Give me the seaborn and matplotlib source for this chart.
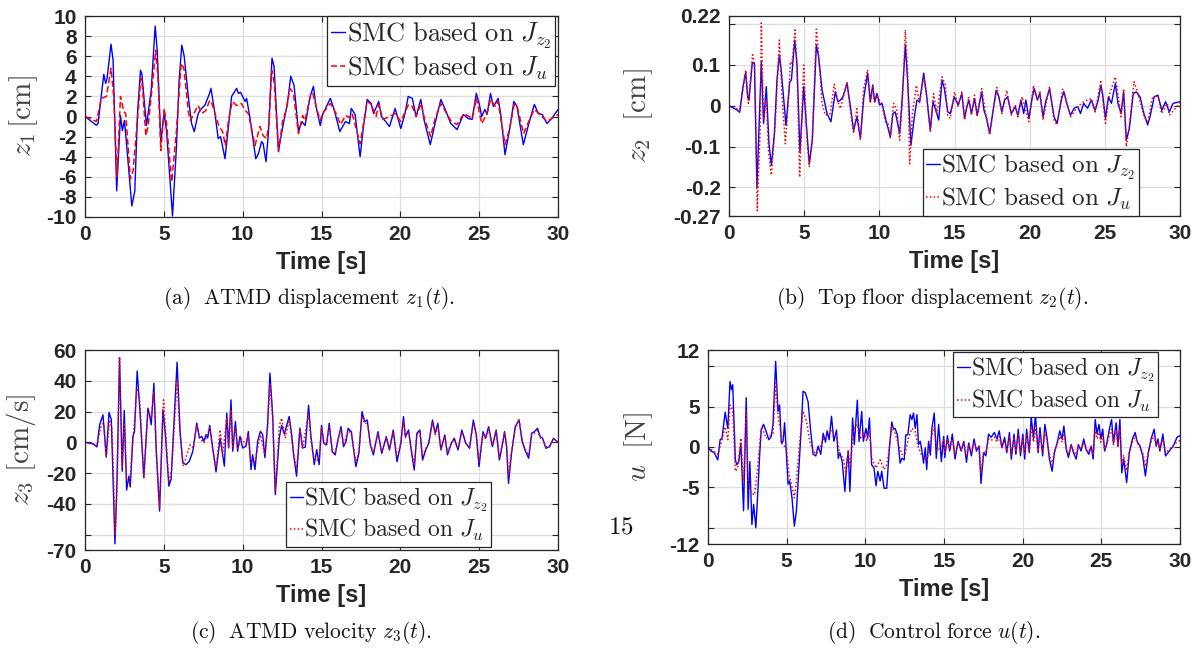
import matplotlib
matplotlib.use('Agg')
import matplotlib.pyplot as plt
import pandas as pd
import seaborn as sns

# (time [s], value) pairs, one list per curve

# (a) ATMD displacement z1 [cm]
z1_jz2 = [(0, 0), (0.72, -0.87), (0.83, -0.7), (1.19, 4.2), (1.31, 3.3), (1.4, 3.8), (1.65, 7.2), (1.78, 5.6),
          (2.01, -7.4), (2.25, 0.1), (2.37, -1.4), (2.5, -0.4), (2.65, -3.0), (2.97, -8.9), (3.16, -7.4), (3.33, 0.3),
          (3.52, 4.6), (3.6, 4.3), (3.9, -0.9), (4.2, 2.6), (4.45, 9.0), (4.58, 6.6), (4.81, -2.5), (5.02, 0.3),
          (5.17, -1.4), (5.55, -9.9), (5.8, -3.0), (5.97, 3.6), (6.14, 7.1), (6.29, 6.0), (6.55, 2.0), (6.76, -0.7),
          (6.93, -1.5), (7.18, 0.3), (7.39, 0.8), (7.6, 1.1), (7.9, 2.3), (7.99, 2.8), (8.24, 0.3), (8.45, -2.2),
          (8.6, -2.0), (8.88, -4.2), (9.05, -1.7), (9.3, 2.0), (9.62, 2.8), (9.73, 2.3), (9.87, 2.4), (10.15, 1.5),
          (10.25, 1.8), (10.47, -0.2), (10.83, -4.2), (11.0, -3.7), (11.2, -2.5), (11.3, -2.7), (11.48, -4.5),
          (11.63, -1.7), (11.86, 5.8), (11.99, 5.0), (12.27, -3.4), (12.58, -0.7), (12.84, 1.3), (13.05, 4.0),
          (13.26, 3.1), (13.54, -1.5), (13.75, -0.5), (13.96, -0.9), (14.28, 2.0), (14.49, 3.0), (14.64, 1.1),
          (14.92, -0.9), (15.07, 0.2), (15.56, 1.8), (15.8, 0.7), (16.16, -1.5), (16.52, -0.5), (16.77, -0.7),
          (16.89, 0.8), (17.13, 0.2), (17.45, -4.0), (17.66, -1.0), (17.9, 1.7), (18.15, 1.3), (18.3, 0.3),
          (18.63, 1.5), (18.8, 0.0), (19.07, -0.5), (19.31, -1.0), (19.67, 0.8), (20.03, -1.2), (20.28, 0.2),
          (20.5, 2.0), (20.76, 1.8), (21.0, 0.0), (21.3, 1.7), (21.5, -0.3), (21.9, -2.8), (22.2, -0.7),
          (22.57, 1.7), (22.9, 0.5), (23.2, -0.7), (23.6, -1.3), (24.0, 0.2), (24.3, -0.2), (24.55, -0.3),
          (24.82, 2.3), (25.0, 1.3), (25.16, 0.0), (25.36, 0.7), (25.5, 0.2), (25.72, 2.3), (25.9, 1.0),
          (26.03, 1.3), (26.2, 1.8), (26.37, 0.2), (26.64, -3.8), (26.93, -1.3), (27.2, 1.5), (27.4, 1.0),
          (27.8, -2.8), (28.15, -0.7), (28.5, 1.2), (28.75, 0.3), (29.0, 0.2), (29.3, -0.7), (29.6, -0.2), (30, 0.7)]
z1_ju = [(0, 0), (0.72, -0.5), (1.04, 1.8), (1.36, 2.0), (1.65, 4.8), (1.82, 2.0), (2.03, -6.0), (2.25, 2.0),
         (2.46, 0.5), (2.58, 0.3), (2.88, -6.2), (3.05, -5.4), (3.35, 0.1), (3.54, 3.8), (3.64, 3.0), (3.86, -1.9),
         (4.0, -1.0), (4.2, 2.0), (4.49, 6.6), (4.64, 3.6), (4.81, -3.4), (5.02, 0.8), (5.17, -0.7), (5.5, -6.5),
         (5.8, -1.4), (6.1, 5.3), (6.27, 4.8), (6.57, 0.3), (6.69, -0.4), (6.97, 0.5), (7.18, 1.1), (7.39, 0.3),
         (7.67, 0.6), (7.88, 1.5), (7.99, 1.6), (8.24, 0.3), (8.5, -1.0), (8.73, -1.5), (8.9, -2.9), (9.09, -0.5),
         (9.34, 1.5), (9.62, 1.1), (9.93, 1.3), (10.15, 0.6), (10.36, 0.3), (10.78, -2.9), (11.1, -1.0),
         (11.3, -1.9), (11.52, -2.2), (11.67, -0.7), (11.84, 4.6), (12.01, 3.3), (12.27, -3.5), (12.54, -0.4),
         (12.75, 0.6), (13.0, 2.8), (13.22, 2.3), (13.54, -1.7), (13.81, 0.1), (13.96, -0.4), (14.28, 2.0),
         (14.45, 2.3), (14.66, 1.0), (14.92, -0.4), (15.07, 0.3), (15.56, 1.3), (15.92, 0.3), (16.21, -0.8),
         (16.53, 0.1), (16.77, -0.1), (16.94, 0.3), (17.45, -2.7), (17.9, 1.5), (18.15, 1.2), (18.46, 0.0),
         (18.63, 1.2), (18.9, -0.3), (19.31, 0.0), (19.67, 0.3), (20.03, -0.5), (20.52, 1.2), (20.76, 1.0),
         (21.0, 0.0), (21.32, 1.3), (21.53, -0.2), (21.92, -2.0), (22.21, -0.2), (22.57, 1.3), (22.94, 0.3),
         (23.23, -0.5), (23.59, -0.8), (24.03, 0.3), (24.56, -0.2), (24.82, 1.8), (25.16, -0.7), (25.5, 0.3),
         (25.72, 1.7), (26.03, 1.0), (26.2, 1.5), (26.64, -2.8), (26.93, -1.2), (27.22, 1.2), (27.41, 1.0),
         (27.82, -1.7), (28.14, -0.5), (28.5, 0.7), (28.99, 0.0), (29.3, -0.5), (30, 0.2)]

# (b) top floor displacement z2 [cm]
z2_jz2 = [(0, 0), (0.53, -0.01), (0.71, -0.016), (0.93, 0.047), (1.11, 0.082), (1.24, 0.022), (1.33, 0.014),
          (1.55, 0.106), (1.69, 0.104), (1.86, -0.2), (2.15, 0.108), (2.3, -0.043), (2.48, 0.047), (2.66, -0.093),
          (2.82, -0.146), (3.02, -0.068), (3.19, 0.063), (3.35, 0.125), (3.48, 0.084), (3.79, -0.048),
          (4.04, 0.059), (4.15, 0.063), (4.37, 0.161), (4.52, 0.104), (4.72, -0.113), (4.97, 0.047),
          (5.14, -0.043), (5.34, -0.142), (5.54, -0.084), (5.81, 0.149), (5.96, 0.12), (6.19, 0.039),
          (6.52, -0.019), (6.78, -0.039), (7.07, 0.034), (7.25, 0.01), (7.41, 0.014), (7.58, 0.022),
          (7.85, 0.055), (8.03, 0.01), (8.29, -0.06), (8.51, -0.027), (8.74, -0.08), (8.96, 0.018), (9.22, 0.08),
          (9.4, 0.01), (9.56, 0.051), (9.69, 0.01), (9.84, 0.03), (10.02, 0.002), (10.18, 0.006), (10.44, -0.035),
          (10.73, -0.076), (10.9, -0.019), (11.06, -0.015), (11.35, -0.068), (11.5, 0.006), (11.73, 0.149),
          (11.88, 0.063), (12.1, -0.097), (12.33, -0.027), (12.5, 0.014), (12.68, 0.01), (12.95, 0.08),
          (13.13, 0.03), (13.39, -0.06), (13.57, 0.01), (13.72, -0.007), (13.95, -0.035), (14.17, 0.063),
          (14.32, 0.043), (14.55, -0.015), (14.72, -0.019), (14.99, 0.022), (15.24, 0.002), (15.49, 0.03),
          (15.67, -0.031), (15.82, -0.002), (15.95, 0.014), (16.13, -0.019), (16.33, 0.018), (16.51, -0.023),
          (16.81, 0.034), (16.96, -0.011), (17.14, -0.031), (17.34, -0.068), (17.57, -0.011), (17.77, 0.038),
          (17.95, 0.022), (18.15, -0.015), (18.33, 0.014), (18.53, 0.022), (18.78, -0.019), (19.04, -0.002),
          (19.22, -0.023), (19.42, 0.014), (19.6, -0.019), (19.75, 0.014), (19.95, -0.031), (20.18, 0.022),
          (20.3, 0.042), (20.51, 0.014), (20.68, 0.03), (20.89, -0.027), (21.06, 0.01), (21.32, 0.042),
          (21.44, 0.014), (21.62, -0.027), (21.82, -0.043), (22.13, 0.018), (22.28, 0.034), (22.46, 0.006),
          (22.71, -0.023), (22.96, -0.006), (23.2, -0.002), (23.38, -0.019), (23.59, 0.006), (23.85, -0.006),
          (24.1, 0.014), (24.35, -0.011), (24.56, 0.014), (24.73, 0.05), (24.85, 0.03), (25.04, -0.031),
          (25.24, 0.022), (25.44, 0.006), (25.7, 0.055), (25.87, 0.006), (26.08, -0.019), (26.25, 0.034),
          (26.43, -0.084), (26.63, -0.055), (26.89, 0.03), (27.09, 0.034), (27.34, 0.022), (27.6, -0.019),
          (27.85, -0.047), (28.03, -0.023), (28.28, 0.022), (28.53, 0.026), (28.79, -0.011), (29.04, 0.01),
          (29.29, -0.015), (29.54, 0.006), (30, 0.01)]
z2_ju = [(0, 0), (0.71, -0.01), (0.98, 0.05), (1.11, 0.088), (1.29, 0.006), (1.57, 0.125), (1.71, 0.096),
         (1.88, -0.257), (2.08, -0.05), (2.15, 0.203), (2.3, -0.035), (2.48, 0.014), (2.64, -0.117), (2.82, -0.17),
         (3.08, -0.043), (3.35, 0.161), (3.53, 0.022), (3.75, -0.093), (3.97, 0.022), (4.08, 0.108), (4.2, 0.104),
         (4.39, 0.186), (4.52, 0.095), (4.7, -0.175), (4.97, 0.1), (5.19, -0.084), (5.34, -0.15), (5.54, -0.084),
         (5.81, 0.188), (5.96, 0.128), (6.19, 0.006), (6.41, -0.023), (6.74, -0.019), (7.0, 0.053), (7.25, 0.01),
         (7.41, -0.007), (7.58, 0.018), (7.85, 0.059), (8.07, -0.011), (8.29, -0.068), (8.51, -0.007),
         (8.74, -0.084), (8.96, 0.043), (9.22, 0.088), (9.4, 0.006), (9.56, 0.047), (9.69, 0.006), (9.84, 0.026),
         (10.18, 0.002), (10.4, -0.039), (10.58, -0.043), (10.73, -0.08), (10.95, 0.006), (11.17, -0.011),
         (11.35, -0.084), (11.55, 0.022), (11.73, 0.186), (11.88, 0.088), (12.02, -0.142), (12.2, -0.019),
         (12.46, 0.05), (12.68, 0.006), (12.95, 0.071), (13.13, 0.03), (13.39, -0.064), (13.61, 0.03),
         (13.83, -0.019), (14.17, 0.071), (14.39, 0.051), (14.55, -0.023), (14.72, -0.031), (15.0, 0.034),
         (15.24, -0.002), (15.49, 0.034), (15.67, -0.035), (15.95, 0.022), (16.13, -0.023), (16.33, 0.026),
         (16.51, -0.027), (16.81, 0.042), (17.14, -0.035), (17.34, -0.072), (17.57, -0.011), (17.82, 0.045),
         (18.15, -0.019), (18.48, 0.038), (18.78, -0.023), (19.04, 0.002), (19.22, -0.027), (19.49, 0.022),
         (19.95, -0.039), (20.25, 0.05), (20.51, 0.014), (20.68, 0.034), (20.89, -0.035), (21.32, 0.047),
         (21.62, -0.035), (21.82, -0.047), (22.2, 0.042), (22.46, 0.01), (22.71, -0.027), (23.22, -0.001),
         (23.59, 0.01), (24.1, 0.018), (24.35, -0.015), (24.73, 0.059), (25.04, -0.043), (25.29, 0.026),
         (25.7, 0.071), (26.08, -0.027), (26.25, 0.042), (26.43, -0.1), (26.63, -0.051), (26.94, 0.059),
         (27.14, 0.038), (27.59, -0.023), (27.85, -0.043), (28.15, 0.018), (28.53, 0.026), (28.78, -0.019),
         (29.16, 0.006), (29.29, -0.023), (30, 0.006)]

# (c) ATMD velocity z3 [cm/s]
z3_jz2 = [(0, 0), (0.51, -0.9), (0.76, -3), (0.93, 11.4), (1.14, 17.9), (1.35, -9.7), (1.52, 19.4), (1.67, 14.7),
          (1.9, -66), (2.03, -25), (2.19, 55), (2.36, -18.8), (2.49, 20.7), (2.64, -31), (2.78, -22), (2.87, -29),
          (3.04, 3.9), (3.14, 7), (3.31, 46.4), (3.5, 18), (3.73, -23), (3.99, 22.2), (4.09, 18), (4.2, 11.4),
          (4.37, 38.4), (4.51, -3.7), (4.73, -44.7), (4.94, 21.2), (5.1, 5), (5.32, -28.5), (5.46, -24),
          (5.84, 52), (6.03, 7.1), (6.2, -13.4), (6.41, -14.5), (6.62, -12.3), (6.84, -5.8), (7.09, 12.5),
          (7.26, 2.8), (7.4, 3.9), (7.53, 0.6), (7.68, 5), (7.78, 2.8), (7.91, 11), (8.1, -3.7), (8.31, -19.2),
          (8.57, 2.8), (8.73, -8), (8.84, -15.5), (8.99, 19), (9.11, -3.7), (9.26, 27.6), (9.37, -5.8),
          (9.54, 13.6), (9.68, -5.8), (9.83, 3.9), (10.0, -3.7), (10.21, -2.6), (10.36, 7), (10.53, -17.7),
          (10.63, -8), (10.78, -17.7), (10.95, 0.6), (11.12, 7.1), (11.27, 5), (11.41, -10), (11.58, 11.4),
          (11.73, 45), (11.9, 18), (12.07, -34), (12.32, 2.8), (12.47, 11), (12.64, 5.4), (12.95, 16.8),
          (13.12, 3.9), (13.23, -8), (13.42, -22), (13.63, 9.3), (13.8, -3.7), (13.97, -3.2), (14.18, 24),
          (14.32, 5), (14.54, -14.5), (14.7, -4.8), (14.85, -14.5), (15.0, 11), (15.15, -0.7), (15.32, -1.7),
          (15.49, 12.4), (15.68, -6.1), (15.87, -8.2), (16.04, 1.5), (16.24, 10.2), (16.4, -2.8), (16.55, 0.4),
          (16.69, 9.1), (16.89, 6.9), (17.18, -15.8), (17.37, -7.2), (17.57, 19.9), (17.74, 13.4), (17.9, 14.5),
          (18.1, -1.7), (18.29, -8.2), (18.58, 6.9), (18.82, -7.2), (19.11, 3.7), (19.31, -5), (19.55, 8),
          (19.79, -12.6), (20.03, -0.7), (20.2, 16.7), (20.32, 3.7), (20.52, 8), (20.69, -5), (20.88, -18),
          (21.05, 5.9), (21.24, 8), (21.41, -11.5), (21.61, -5), (21.8, -0.7), (22.04, 14.5), (22.21, 5.9),
          (22.38, 12.4), (22.57, -5), (22.82, 4.8), (22.99, -8.2), (23.23, -0.7), (23.42, 2.6), (23.66, -5),
          (23.9, 8), (24.15, -0.7), (24.39, -3.9), (24.63, 14.5), (24.82, 4.8), (24.99, -15.8), (25.24, 6.9),
          (25.41, 2.6), (25.6, 10.2), (25.84, -2.8), (26.08, 8), (26.28, -11.5), (26.45, -2.8), (26.61, 6.9),
          (26.74, -2.8), (26.86, -26.7), (27.05, -7.2), (27.29, 10.2), (27.53, 14.5), (27.73, 0.4), (27.95, -6.1),
          (28.14, -10.4), (28.33, 5.9), (28.5, 6.9), (28.7, 9.1), (28.87, 3.7), (29.03, 2.6), (29.23, -3.9),
          (29.47, -2.8), (29.71, 2.6), (30, 0)]
z3_ju = [(0, 0), (0.76, -2), (1.04, 11.4), (1.19, 12.5), (1.35, -9), (1.56, 14.7), (1.71, 9.3), (1.92, -60),
         (2.05, -23), (2.19, 55.7), (2.36, -15.5), (2.49, 12.5), (2.64, -24), (2.83, -27), (3.04, 1.7), (3.31, 35),
         (3.46, 28.7), (3.73, -23), (3.99, 20), (4.2, 15.8), (4.37, 33), (4.51, -3.7), (4.73, -42.5), (4.98, 27.6),
         (5.15, 0.6), (5.32, -26), (5.49, -18.8), (5.84, 40.6), (6.03, 5), (6.24, -15.5), (6.46, -8), (6.67, -1.5),
         (6.88, -3.7), (7.09, 11.4), (7.26, 2.8), (7.53, -0.4), (7.68, 2.8), (7.91, 9.3), (8.1, -4.8),
         (8.31, -16.6), (8.57, 8.2), (8.73, -8), (8.99, 15.8), (9.11, -3.7), (9.26, 21), (9.37, -3.7), (9.54, 9.3),
         (9.68, -4.8), (9.89, 2.8), (10.21, -1.5), (10.36, 5), (10.53, -13.4), (10.78, -12.3), (11.12, 5),
         (11.41, -8), (11.58, 9.3), (11.73, 37.8), (11.9, 15.8), (12.07, -31.7), (12.32, 10.4), (12.47, 15.8),
         (12.7, 2.8), (12.95, 14.7), (13.23, -6.9), (13.42, -17.7), (13.63, 8.2), (13.8, -3.7), (14.18, 19),
         (14.32, 2.8), (14.54, -12.3), (14.85, -11.2), (15.0, 9.3), (15.15, -0.4), (15.32, -1), (15.49, 10),
         (15.68, -4.5), (15.87, -6.5), (16.04, 1), (16.24, 8.5), (16.4, -2), (16.69, 7.5), (16.89, 6),
         (17.18, -13), (17.37, -6), (17.57, 17), (17.74, 12), (17.9, 12.5), (18.1, -1), (18.29, -6.5), (18.58, 6),
         (18.82, -6), (19.11, 3), (19.31, -4), (19.55, 7), (19.79, -10), (20.03, -0.5), (20.2, 14), (20.32, 3),
         (20.52, 7), (20.69, -4), (20.88, -15), (21.05, 5), (21.24, 7), (21.41, -9.5), (21.61, -4), (21.8, -0.5),
         (22.04, 12.5), (22.21, 5), (22.38, 10.5), (22.57, -4), (22.82, 4), (22.99, -6.5), (23.23, -0.5),
         (23.42, 2), (23.66, -4), (23.9, 6.5), (24.15, -0.5), (24.39, -3), (24.63, 12.5), (24.82, 4), (24.99, -13),
         (25.24, 6), (25.41, 2), (25.6, 8.5), (25.84, -2), (26.08, 7), (26.28, -9.5), (26.45, -2), (26.61, 6),
         (26.74, -2), (26.86, -22), (27.05, -6), (27.29, 9), (27.53, 15), (27.73, 1), (27.95, -5), (28.14, -8.5),
         (28.33, 5), (28.5, 6), (28.7, 7.5), (28.87, 3), (29.03, 2), (29.23, -3), (29.47, -2.5), (29.71, 2), (30, 0)]

# (d) control force u [N]
u_jz2 = [(0, 0), (0.19, -0.5), (0.4, -0.7), (0.62, -1.6), (0.77, 0.9), (0.89, 1.1), (1.09, 4.3), (1.26, 2.3),
         (1.4, 8.1), (1.49, 7.1), (1.57, 7.7), (1.74, -1.6), (1.83, -2.2), (1.96, -1.8), (2.09, 0.5), (2.26, -7.9),
         (2.43, 6.1), (2.55, -7.7), (2.66, -1.8), (2.79, -9.6), (2.9, -7.1), (3.04, -10), (3.17, -5.5),
         (3.28, -1.1), (3.38, 2.1), (3.53, 2.8), (3.7, 1.9), (3.87, 0.9), (4.02, 1.3), (4.13, 2.8), (4.3, 10.6),
         (4.45, 4.4), (4.55, 5.2), (4.66, 0.5), (4.77, 0.7), (4.87, 3), (4.98, -0.9), (5.09, -4.6), (5.19, -4.2),
         (5.34, -6.3), (5.49, -9.8), (5.62, -7.9), (5.79, -2.2), (5.94, 2.8), (6.04, 6.9), (6.19, 6.7),
         (6.36, 5.6), (6.51, 2.3), (6.68, -0.9), (6.85, -1.1), (7.0, 0.1), (7.17, -0.9), (7.32, 1.7), (7.47, 0.6),
         (7.57, 2), (7.7, 0.9), (7.85, 3.8), (8.0, 0.7), (8.17, 2.1), (8.28, -1.4), (8.38, -0.7), (8.53, -1.8),
         (8.7, -5.5), (8.81, -2.2), (8.91, -0.5), (9.02, -5.5), (9.19, 3.6), (9.3, 0.3), (9.49, 5.8), (9.6, 0.7),
         (9.77, 4.4), (9.87, 0.7), (10.04, 2.3), (10.15, 1.1), (10.26, 3.6), (10.4, -2.2), (10.55, -2.6),
         (10.68, -4.8), (10.79, -3), (10.94, -4.2), (11.04, -3), (11.19, -5.1), (11.36, -5.1), (11.53, -0.1),
         (11.68, 3.1), (11.79, 2.2), (11.89, 2.3), (12.04, 1.5), (12.21, -2), (12.32, -1.4), (12.47, -1.6),
         (12.57, 1.5), (12.7, 1.5), (12.85, 4), (12.96, 3.4), (13.06, 4.2), (13.17, 2.3), (13.28, 4), (13.38, 0.3),
         (13.49, 0.7), (13.6, -0.5), (13.7, -2), (13.81, -0.1), (13.9, -2.8), (14.02, 0.7), (14.13, -1),
         (14.23, 2.3), (14.38, 4.2), (14.51, -1.4), (14.66, 2.8), (14.83, -1.8), (14.98, 1.3), (15.05, -1.3),
         (15.22, 1.4), (15.36, -0.5), (15.53, 1.6), (15.7, -1.5), (15.9, 0.7), (16.09, -0.5), (16.26, 0.7),
         (16.43, -1.9), (16.57, 0.5), (16.74, -1.1), (16.91, 1.0), (17.06, -0.5), (17.23, 0.1), (17.35, -4.5),
         (17.52, -0.7), (17.66, -1.1), (17.83, 1.6), (18.0, 1.2), (18.2, 1.8), (18.36, 1.0), (18.51, 2.0),
         (18.68, -0.1), (18.85, 1.2), (18.99, -0.7), (19.16, 1.8), (19.28, -1.5), (19.45, 1.6), (19.57, -0.9),
         (19.72, 2.2), (19.86, -1.1), (20.01, 1.6), (20.13, -1.5), (20.25, 2.2), (20.42, -0.7), (20.54, 3.8),
         (20.69, 1.0), (20.81, 4.1), (20.98, -0.7), (21.1, 2.4), (21.27, -1.1), (21.41, 2.8), (21.53, 1.4),
         (21.7, -1.5), (21.87, -3.0), (22.02, -0.7), (22.19, 0.5), (22.36, 2.0), (22.5, 1.0), (22.62, 2.6),
         (22.77, -0.3), (22.91, -1.3), (23.08, 0.3), (23.23, -0.7), (23.4, -1.5), (23.54, 0.3), (23.71, -0.5),
         (23.88, 1.0), (24.03, -0.3), (24.2, -0.9), (24.36, 0.1), (24.48, -1.5), (24.61, 3.4), (24.73, 1.6),
         (24.85, 2.8), (24.97, 1.0), (25.09, 2.2), (25.21, -0.5), (25.33, 0.3), (25.53, 2.4), (25.65, 3.4),
         (25.77, 0.5), (25.94, 3.0), (26.06, 0.1), (26.18, 3.4), (26.3, -3.2), (26.42, -1.5), (26.61, -4.4),
         (26.78, -0.7), (26.98, 1.0), (27.15, 1.8), (27.27, 0.7), (27.46, 0.1), (27.63, -1.1), (27.8, -3.6),
         (27.99, -0.7), (28.16, 1.0), (28.36, 2.2), (28.48, 0.1), (28.6, 1.0), (28.72, -0.5), (28.91, 1.6),
         (29.08, -1.1), (29.32, -0.5), (29.57, 0.1), (29.81, 1.2), (30, 1.4)]
u_ju = [(0, 0), (0.62, -0.9), (0.89, 0.9), (1.09, 2.5), (1.26, 0.9), (1.4, 5.2), (1.57, 4.6), (1.74, -3.0),
        (1.89, -2.6), (2.09, 1.1), (2.26, -4.2), (2.43, 4.4), (2.55, -4.2), (2.74, -5.7), (2.96, -5.9),
        (3.17, -2.2), (3.38, 2.3), (3.53, 1.9), (3.7, 1.1), (3.87, 1.3), (4.13, 1.7), (4.3, 7.9), (4.45, 3.8),
        (4.6, 2.3), (4.72, 0.3), (4.98, -0.1), (5.15, -3.4), (5.3, -4.6), (5.49, -6.3), (5.62, -4.2), (5.83, 0.7),
        (6.04, 4.4), (6.26, 3.2), (6.47, 0.7), (6.68, -0.5), (6.89, -0.9), (7.11, -0.1), (7.32, 0.9), (7.57, 1.3),
        (7.85, 2.1), (8.17, 1.3), (8.38, -0.9), (8.6, -1.4), (8.77, -3.4), (8.91, -0.5), (9.06, -2.6), (9.23, 2.1),
        (9.49, 2.8), (9.66, 0.9), (9.87, 1.9), (10.09, 0.7), (10.26, 2.1), (10.4, -1.4), (10.68, -2.6),
        (10.94, -1.6), (11.19, -2.8), (11.36, -2.2), (11.53, -0.1), (11.68, 2.5), (11.89, 1.7), (12.11, 0.3),
        (12.32, -0.9), (12.53, -0.9), (12.74, 1.1), (12.96, 2.3), (13.17, 1.9), (13.38, -0.1), (13.6, -1.1),
        (13.91, -1.8), (14.23, 1.5), (14.38, 2.5), (14.55, -0.5), (14.77, -0.1), (14.98, 0.9), (15.05, -0.8),
        (15.22, 0.9), (15.36, -0.3), (15.53, 1.0), (15.7, -1.0), (15.9, 0.5), (16.09, -0.3), (16.26, 0.5),
        (16.43, -1.2), (16.57, 0.3), (16.74, -0.7), (16.91, 0.6), (17.06, -0.3), (17.23, 0.1), (17.35, -3.2),
        (17.52, -0.5), (17.66, -0.7), (17.83, 1.0), (18.0, 0.8), (18.2, 1.2), (18.36, 0.6), (18.51, 1.3),
        (18.68, 0.0), (18.85, 0.8), (18.99, -0.5), (19.16, 1.2), (19.28, -1.0), (19.45, 1.0), (19.57, -0.6),
        (19.72, 1.5), (19.86, -0.7), (20.01, 1.0), (20.13, -1.0), (20.25, 1.5), (20.42, -0.5), (20.54, 2.5),
        (20.69, 0.6), (20.81, 2.6), (20.98, -0.5), (21.1, 1.6), (21.27, -0.7), (21.41, 1.8), (21.53, 0.9),
        (21.7, -1.0), (21.87, -2.2), (22.02, -0.5), (22.19, 0.3), (22.36, 1.3), (22.5, 0.6), (22.62, 1.7),
        (22.77, -0.2), (22.91, -0.9), (23.08, 0.2), (23.23, -0.5), (23.4, -1.0), (23.54, 0.2), (23.71, -0.3),
        (23.88, 0.6), (24.03, -0.2), (24.2, -0.6), (24.36, 0.1), (24.48, -1.0), (24.61, 2.2), (24.73, 1.0),
        (24.85, 1.8), (24.97, 0.6), (25.09, 1.4), (25.21, -0.3), (25.33, 0.2), (25.53, 1.6), (25.65, 2.2),
        (25.77, 0.3), (25.94, 2.0), (26.06, 0.1), (26.18, 2.2), (26.3, -2.2), (26.42, -1.0), (26.61, -2.9),
        (26.78, -0.5), (26.98, 0.6), (27.15, 1.4), (27.27, 0.5), (27.46, 0.1), (27.63, -0.7), (27.8, -2.4),
        (27.99, -0.5), (28.16, 0.6), (28.36, 1.4), (28.48, 0.1), (28.6, 0.6), (28.72, -0.3), (28.91, 1.0),
        (29.08, -0.7), (29.32, -0.3), (29.57, 0.2), (29.81, 0.6), (30, 0.8)]

# axis ticks (blank label = gridline only)
x_ticks = [0, 5, 10, 15, 20, 25, 30]
z1_ticks = [-10, -8, -6, -4, -2, 0, 2, 4, 6, 8, 10]
z1_labels = ['-10', '-8', '-6', '-4', '-2', '0', '2', '4', '6', '8', '10']
z2_ticks = [-0.27, -0.2, -0.1, 0, 0.1, 0.2, 0.22]
z2_labels = ['-0.27', '-0.2', '-0.1', '0', '0.1', '', '0.22']
z3_ticks = [-70, -60, -40, -20, 0, 20, 40, 60]
z3_labels = ['-70', '', '-40', '-20', '0', '20', '40', '60']
u_ticks = [-12, -10, -5, 0, 5, 10, 12]
u_labels = ['-12', '', '-5', '0', '5', '', '12']

label_jz2 = r'$\mathrm{SMC\ based\ on}\ J_{z_2}$'
label_ju = r'$\mathrm{SMC\ based\ on}\ J_u$'

sns.set_theme(style='white')
plt.rcParams['font.family'] = ['Liberation Sans', 'DejaVu Sans']
plt.rcParams['mathtext.fontset'] = 'cm'

W, H = 1196, 648
fig = plt.figure(figsize=(W / 100, H / 100), dpi=100)


def add_ax(left, top, right, bottom):
    return fig.add_axes([left / W, 1 - bottom / H, (right - left) / W, (bottom - top) / H])


def to_df(pairs):
    t, v = zip(*pairs)
    return pd.DataFrame({'t': t, 'v': v})


def panel(ax, blue, red, red_dash, ylim, yticks, ylabels, ylabel, ylab_x, loc, anchor, leg_fs):
    sns.lineplot(data=to_df(blue), x='t', y='v', ax=ax, color='#0000ff', lw=1.0,
                 sort=False, estimator=None, label=label_jz2)
    sns.lineplot(data=to_df(red), x='t', y='v', ax=ax, color='#ff0000', lw=1.1,
                 sort=False, estimator=None, label=label_ju, linestyle=red_dash)
    ax.set_xlim(0, 30)
    ax.set_ylim(*ylim)
    ax.set_xticks(x_ticks)
    ax.set_xticklabels([str(x) for x in x_ticks], fontweight='bold', fontsize=15, color='#262626')
    ax.set_yticks(yticks)
    ax.set_yticklabels(ylabels, fontweight='bold', fontsize=15, color='#262626')
    ax.grid(True, color='#dedede', lw=0.9)
    for s in ax.spines.values():
        s.set_color('#262626')
        s.set_linewidth(0.9)
    ax.tick_params(direction='in', length=4, width=0.8, color='#262626', top=True, right=True,
                   bottom=True, left=True, pad=6)
    ax.set_xlabel('Time [s]', fontweight='bold', fontsize=17, color='#262626', labelpad=5)
    ax.set_ylabel(ylabel, fontsize=21, color='#444444')
    ax.yaxis.set_label_coords(ylab_x, 0.5)
    leg = ax.legend(loc=loc, bbox_to_anchor=anchor, borderaxespad=0, fontsize=leg_fs,
                    handlelength=0.55, handletextpad=0.05, borderpad=0.15, labelspacing=0.15,
                    frameon=True, fancybox=False, framealpha=1)
    leg.get_frame().set_edgecolor('#262626')
    leg.get_frame().set_linewidth(0.9)


ax_a = add_ax(85, 16, 558, 217)
panel(ax_a, z1_jz2, z1_ju, (0, (4, 2)), (-10, 10), z1_ticks, z1_labels,
      r'$z_1\,\mathrm{[cm]}$', -0.095, 'upper right', (0.994, 1.0), 19)

ax_b = add_ax(729, 16, 1180, 216)
panel(ax_b, z2_jz2, z2_ju, (0, (1, 1.5)), (-0.27, 0.22), z2_ticks, z2_labels,
      r'$z_2\ \ \mathrm{[cm]}$', -0.165, 'lower right', (0.909, 0.0), 18)

ax_c = add_ax(85, 350, 558, 550)
panel(ax_c, z3_jz2, z3_ju, (0, (1, 1.5)), (-70, 60), z3_ticks, z3_labels,
      r'$z_3\ \mathrm{[cm/s]}$', -0.1, 'lower right', (0.858, 0.015), 17)

ax_d = add_ax(708, 350, 1180, 544)
panel(ax_d, u_jz2, u_ju, (0, (1, 1.5)), (-12, 12), u_ticks, u_labels,
      r'$u\ \ \mathrm{[N]}$', -0.112, 'upper right', (0.953, 0.99), 17)

# captions below the panels
cap = dict(fontsize=15.5, ha='center', va='center', color='#111111')
fig.text(309 / W, 1 - 299 / H, r'$\mathrm{(a)\ \ ATMD\ displacement}\ z_1(t)\mathrm{.}$', **cap)
fig.text(932 / W, 1 - 299 / H, r'$\mathrm{(b)\ \ Top\ floor\ displacement}\ z_2(t)\mathrm{.}$', **cap)
fig.text(311 / W, 1 - 632 / H, r'$\mathrm{(c)\ \ ATMD\ velocity}\ z_3(t)\mathrm{.}$', **cap)
fig.text(934 / W, 1 - 632 / H, r'$\mathrm{(d)\ \ Control\ force}\ u(t)\mathrm{.}$', **cap)
fig.text(621 / W, 1 - 527 / H, r'$\mathrm{15}$', fontsize=18, ha='center', va='center', color='#111111')

fig.savefig('out.png', dpi=100, facecolor='white')
